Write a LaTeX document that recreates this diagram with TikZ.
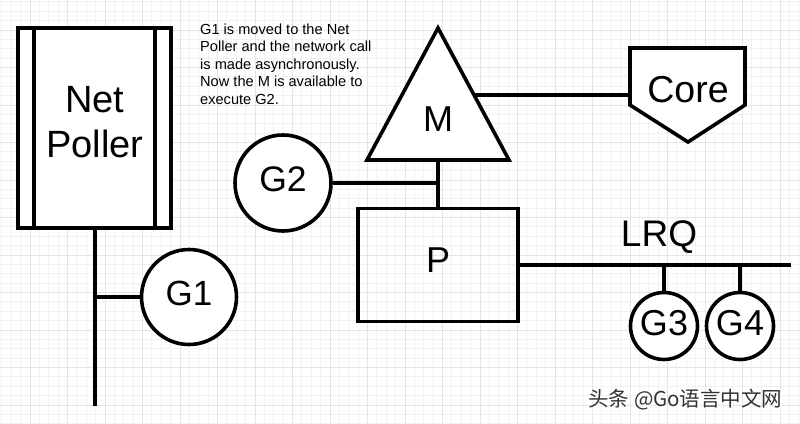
\documentclass[tikz,border=0pt]{standalone}
\usepackage{fontspec}
\setmainfont{Liberation Sans}
\newfontfamily\cjkfont{Noto Sans CJK SC}
\begin{document}
\begin{tikzpicture}[x=1pt,y=-1pt,
  thick line/.style={line width=3.6pt, line join=miter},
  gcircle/.style={circle, draw, line width=3.6pt, fill=white, inner sep=0pt, text depth=7pt},
  bigtext/.style={font=\fontsize{36}{42}\selectfont},
  conn/.style={line width=3.6pt}]
\useasboundingbox (0,0) rectangle (800,423);
\fill[white] (0,0) rectangle (800,423);
% grid
\foreach \i in {0,...,86} {
  \draw[color=black!5, line width=0.8pt] ({30+9.375*(\i-4)},0) -- ++(0,423);
}
\foreach \i in {0,...,46} {
  \draw[color=black!5, line width=0.8pt] (0,{30+9.375*(\i-4)}) -- ++(800,0);
}
\foreach \i in {-1,...,21} {
  \draw[color=black!10, line width=1pt] ({30+37.5*\i},0) -- ++(0,423);
}
\foreach \i in {-1,...,11} {
  \draw[color=black!10, line width=1pt] (0,{30+37.5*\i}) -- ++(800,0);
}

% Net Poller
\draw[thick line, fill=white] (18,28) rectangle (171,228);
\draw[thick line] (34,28) -- (34,228);
\draw[thick line] (155,28) -- (155,228);
\node[align=center, font=\fontsize{38}{45}\selectfont] (np) at (95,122) {Net\\Poller};
\coordinate (npb) at (95,228);
\coordinate (npend) at (95,406);
\coordinate (npj) at (95,297);

% G1
\node[gcircle, minimum size=95pt, font=\fontsize{35}{40}\selectfont] (g1) at (189,297) {G1};
\draw[conn] (npb) -- (npend);
\draw[conn] (npj) -- (g1.west);

% annotation
\node[anchor=north west, align=left, inner sep=0pt,
      font=\fontsize{14.6}{17.5}\selectfont] (note) at (200,23.5)
  {G1 is moved to the Net\\Poller and the network call\\is made asynchronously.\\Now the M is available to\\execute G2.};

% M triangle
\draw[thick line, fill=white] (438,28) -- (509,160) -- (367,160) -- cycle;
\node[bigtext] (m) at (438,119) {M};
\coordinate (mbase) at (438,160);
\coordinate (mright) at (475,95);

% Core
\draw[thick line, fill=white] (630,48) -- (745,48) -- (745,105) -- (688,142) -- (630,105) -- cycle;
\node[font=\fontsize{37.5}{42}\selectfont] (core) at (688,90) {Core};
\coordinate (coreleft) at (630,95);
\draw[conn] (mright) -- (coreleft);

% P
\node[draw, line width=3.6pt, minimum width=160pt, minimum height=113pt, inner sep=0pt, text depth=10pt, bigtext] (p) at (438,265) {P};
\draw[conn] (mbase) -- (p.north);

% G2
\node[gcircle, minimum size=96pt, font=\fontsize{35.5}{40}\selectfont] (g2) at (283,183) {G2};
\coordinate (mj) at (438,183);
\draw[conn] (g2.east) -- (mj);

% LRQ
\coordinate (lrqend) at (791,265);
\draw[conn] (p.east |- lrqend) -- (lrqend);
\node[font=\fontsize{37}{42}\selectfont] (lrq) at (659,237) {LRQ};

\node[gcircle, minimum size=67pt, font=\fontsize{36}{40}\selectfont] (g3) at (664,326) {G3};
\node[gcircle, minimum size=67pt, font=\fontsize{36}{40}\selectfont] (g4) at (740,326) {G4};
\coordinate (g3t) at (664,265);
\coordinate (g4t) at (740,265);
\draw[conn] (g3t) -- (g3.north);
\draw[conn] (g4t) -- (g4.north);

% watermark
\node[anchor=east, font=\cjkfont\fontsize{20.5}{24}\selectfont, text=white] (wm2) at (787.5,401.5) {头条 @Go语言中文网};
\node[anchor=east, font=\cjkfont\fontsize{20.5}{24}\selectfont, text=black!80] (wm) at (786,400) {头条 @Go语言中文网};
\end{tikzpicture}
\end{document}
